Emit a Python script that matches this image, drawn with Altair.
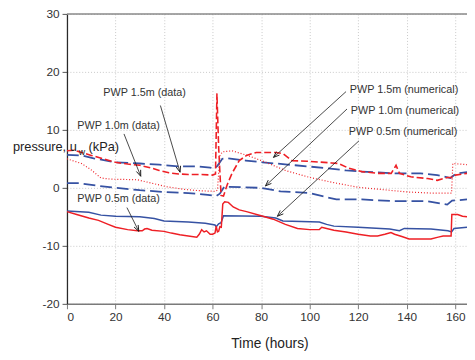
import math
import altair as alt
import pandas as pd

# ---------------- data ----------------
x_ticks = [0, 20, 40, 60, 80, 100, 120, 140, 160]
y_ticks = [-20, -10, 0, 10, 20, 30]

red_solid_t = [0, 4, 9, 13, 17, 20, 25, 29, 31, 32, 33, 35, 40, 43, 46.5, 50, 53.5, 54.5, 55.5, 56.5,
               57.5, 59, 60, 61, 61.5, 62, 62.5, 63, 63.6, 64.2, 65, 66.5, 68.5, 71, 74, 80, 85, 90, 95, 100,
               104, 105, 107, 110, 115, 120, 125, 128, 131, 133.5, 135, 138, 141, 150, 153, 155, 158.3, 158.6,
               161, 163, 164.85]
red_solid_v = [-4.1, -4.6, -5.2, -5.6, -6.3, -6.8, -7.2, -7.4, -7.4, -7.1, -7.0, -7.3, -7.5, -7.8, -8.1, -8.3,
               -8.5, -8.0, -7.2, -7.6, -7.4, -8.0, -8.0, -7.8, -6.6, -7.6, -7.5, -6.7, -6.8, -2.8, -2.4, -2.5,
               -3.3, -3.8, -4.1, -4.8, -5.4, -6.3, -7.0, -7.2, -7.2, -6.8, -7.0, -7.3, -7.6, -8.0, -8.3, -8.3,
               -8.0, -7.7, -8.0, -8.4, -8.8, -8.8, -8.5, -8.3, -8.3, -4.6, -4.6, -4.9, -5.0]

red_dash_t = [0, 3, 6, 10, 15, 20, 25, 30, 35, 38, 42, 46, 50, 55, 60, 61.2, 61.8, 62.5, 63.5, 64.5, 66, 68,
              71, 74, 78, 86, 89, 92.7, 99, 109, 112, 116, 121.5, 128, 133.6, 135.6, 137, 141.7, 148.6, 152.6,
              156.7, 158.7, 160, 164.85]
red_dash_v = [6.4, 6.5, 6.1, 5.6, 5.0, 4.4, 4.1, 3.9, 3.4, 3.0, 2.6, 2.4, 2.3, 2.3, 2.2, 2.4, 16.3, 7.0, -1.3,
              -1.4, 0.5, 2.5, 4.7, 5.6, 6.1, 6.1, 5.9, 4.7, 4.6, 4.3, 4.2, 3.4, 2.8, 2.5, 2.5, 3.9, 2.5, 1.9,
              1.6, 1.3, 1.8, 1.8, 2.2, 2.5]

red_dot_t = [0, 6, 10, 14, 18, 29, 35, 41, 49, 55, 61, 62, 63, 64, 68, 75, 82, 90, 100, 110, 120, 130, 140,
             150, 158.5, 159, 164.85]
red_dot_v = [5.0, 4.2, 3.1, 1.7, 1.5, 1.4, 0.8, 0.2, -0.3, -0.5, -0.6, -0.4, 5.5, 6.2, 6.4, 5.5, 4.4, 3.0, 1.8,
             0.9, 0.1, -0.3, -0.7, -0.9, -0.9, 4.2, 4.0]

blue_solid_t = [0, 9, 14, 20, 30, 36, 40, 50, 57, 61, 61.5, 62.5, 63.5, 64.5, 80, 86, 89, 104, 107, 110, 120,
                133, 137, 139, 150, 157, 158.5, 159.5, 164.85]
blue_solid_v = [-4.0, -4.2, -4.7, -4.9, -5.0, -5.3, -5.7, -5.9, -6.1, -6.4, -6.7, -6.2, -6.0, -4.8, -4.9, -5.2,
                -5.7, -5.9, -6.3, -6.6, -6.8, -7.1, -7.4, -7.0, -7.1, -7.4, -7.6, -7.0, -6.8]

blue_15_t = [0, 6, 11, 20, 30, 38, 46, 54, 59, 60.5, 62, 64, 66, 73.7, 80.6, 94, 107, 115, 121.5, 135, 145.7,
             152.6, 158, 160.5, 164.85]
blue_15_v = [5.7, 5.6, 5.1, 4.4, 4.2, 4.0, 3.7, 3.7, 3.5, 3.3, 3.8, 5.0, 5.1, 4.7, 4.4, 3.9, 3.4, 3.0, 2.8, 2.5,
             2.5, 2.2, 1.7, 2.5, 2.7]

blue_10_t = [0, 5, 12, 20, 30, 40, 50, 58, 61.5, 63, 64.8, 80, 88, 100, 106, 111, 121.5, 135, 148.6, 156.7,
             158.7, 164.85]
blue_10_v = [0.8, 0.8, 0.4, 0.0, -0.4, -0.7, -0.9, -1.2, -1.4, -1.0, 0.2, 0.0, -0.6, -0.9, -1.5, -2.0, -2.0,
             -2.3, -2.3, -2.9, -2.2, -2.0]

ann_labels = ["PWP 1.5m (data)", "PWP 1.0m (data)", "PWP 0.5m (data)",
              "PWP 1.5m (numerical)", "PWP 1.0m (numerical)", "PWP 0.5m (numerical)"]

# annotation placement (data units)
ann_label_t = [32.0, 21.3, 21.3, 138.9, 139.3, 138.5]
ann_label_v = [16.4, 10.7, -1.9, 16.9, 13.2, 9.7]
ann_from_t = [38.5, 23.5, 24.7, 115.0, 115.4, 120.3]
ann_from_v = [14.2, 9.3, -3.4, 16.6, 13.6, 8.1]
ann_to_t = [46.6, 30.4, 29.6, 85.1, 81.8, 86.7]
ann_to_v = [2.7, 2.0, -7.5, 5.25, 0.34, -4.9]

# ---------------- layout ----------------
W, H = 407, 295
X_MAX = 164.85
FONT = "Liberation Sans"
RED = "#ee1f25"
BLUE = "#3652a3"

series = [
    ("PWP 1.5m (numerical)", blue_15_t, blue_15_v, BLUE, [12, 5], 1.8),
    ("PWP 1.0m (numerical)", blue_10_t, blue_10_v, BLUE, [12, 5], 1.8),
    ("PWP 0.5m (numerical)", blue_solid_t, blue_solid_v, BLUE, None, 1.5),
    ("PWP 1.0m (data)", red_dot_t, red_dot_v, RED, [1, 2], 1.2),
    ("PWP 1.5m (data)", red_dash_t, red_dash_v, RED, [7, 3], 1.6),
    ("PWP 0.5m (data)", red_solid_t, red_solid_v, RED, None, 1.5),
]

frames = []
for name, ts, vs, *_ in series:
    frames.append(pd.DataFrame({"t": ts, "v": vs, "series": name}))
df = pd.concat(frames, ignore_index=True)
df["idx"] = range(len(df))

X_SCALE = alt.Scale(domain=[0, X_MAX], nice=False, zero=False)
Y_SCALE = alt.Scale(domain=[-20, 30], nice=False, zero=False)

x_axis = alt.Axis(values=x_ticks, title="Time (hours)", grid=True, gridColor="#c8c8c8",
                  gridDash=[1, 2], gridWidth=1, domainColor="#7a7a7a", domainWidth=1.6,
                  tickColor="#7a7a7a", tickSize=5, tickWidth=1, labelFont=FONT, labelFontSize=12,
                  labelColor="#333333", labelPadding=3, labelExpr="'' + datum.value",
                  titleFont=FONT, titleFontSize=14, titleFontWeight="normal", titleColor="#222222",
                  titleX=206, titleY=40, titleBaseline="middle", titleAlign="center")
y_axis = alt.Axis(values=y_ticks, title=None, grid=True, gridColor="#c8c8c8", gridDash=[1, 2],
                  gridWidth=1, domainColor="#2a2a2a", domainWidth=1.3, tickColor="#555555",
                  tickSize=5, tickWidth=1, labelFont=FONT, labelFontSize=12, labelColor="#333333",
                  labelPadding=3, labelExpr="'' + datum.value")


def X(field):
    return alt.X(field, scale=X_SCALE, axis=x_axis)


def Y(field):
    return alt.Y(field, scale=Y_SCALE, axis=y_axis)


layers = []

# top frame line
layers.append(alt.Chart(pd.DataFrame({"v": [30]})).mark_rule(color="#8a8a8a", strokeWidth=1.5)
              .encode(y=Y("v:Q")))

for name, ts, vs, color, dash, width in series:
    kw = dict(color=color, strokeWidth=width, clip=True)
    if dash:
        kw["strokeDash"] = dash
    layers.append(alt.Chart(df).transform_filter(alt.datum.series == name)
                  .mark_line(**kw).encode(x=X("t:Q"), y=Y("v:Q"), order="idx:Q"))

# annotations
PX_T = W / X_MAX
PX_V = H / 50.0
angles = []
for t1, v1, t2, v2 in zip(ann_from_t, ann_from_v, ann_to_t, ann_to_v):
    dx = (t2 - t1) * PX_T
    dy = -(v2 - v1) * PX_V
    angles.append(math.degrees(math.atan2(dx, -dy)) % 360)

ann = pd.DataFrame({"label": ann_labels, "lt": ann_label_t, "lv": ann_label_v,
                    "t1": ann_from_t, "v1": ann_from_v, "t2": ann_to_t, "v2": ann_to_v,
                    "ang": angles})

layers.append(alt.Chart(ann).mark_rule(color="#1a1a1a", strokeWidth=0.8)
              .encode(x=X("t1:Q"), y=Y("v1:Q"), x2="t2:Q", y2="v2:Q"))
layers.append(alt.Chart(ann).mark_point(shape="M-0.38,1L0,0L0.38,1", filled=False, color="#1a1a1a",
                                        strokeWidth=0.9, size=150, opacity=1)
              .encode(x=X("t2:Q"), y=Y("v2:Q"), angle=alt.Angle("ang:Q", scale=None)))
layers.append(alt.Chart(ann).mark_text(font=FONT, fontSize=11, color="#333333", align="center",
                                       baseline="middle")
              .encode(x=X("lt:Q"), y=Y("lv:Q"), text="label:N"))

# horizontal y-axis title, as much of it as the reference shows
ytitle_main = pd.DataFrame({"txt": ["pressure, u"], "t": [4.05], "v": [7.0]})
ytitle_sub = pd.DataFrame({"txt": ["w"], "t": [4.86], "v": [6.1]})
ytitle_unit = pd.DataFrame({"txt": ["(kPa)"], "t": [8.9], "v": [7.0]})
layers.append(alt.Chart(ytitle_main).mark_text(font=FONT, fontSize=13, color="#222222", align="right",
                                               baseline="middle")
              .encode(x=X("t:Q"), y=Y("v:Q"), text="txt:N"))
layers.append(alt.Chart(ytitle_sub).mark_text(font=FONT, fontSize=9, color="#222222", align="left",
                                              baseline="middle")
              .encode(x=X("t:Q"), y=Y("v:Q"), text="txt:N"))
layers.append(alt.Chart(ytitle_unit).mark_text(font=FONT, fontSize=13, color="#222222", align="left",
                                               baseline="middle")
              .encode(x=X("t:Q"), y=Y("v:Q"), text="txt:N"))

chart = (alt.layer(*layers)
         .properties(width=W, height=H, autosize=alt.AutoSizeParams(type="none"),
                     padding={"left": 60, "top": 3, "right": 0, "bottom": 46})
         .configure_view(stroke=None))

chart.save("out.html", embed_options={"renderer": "svg", "actions": False})
